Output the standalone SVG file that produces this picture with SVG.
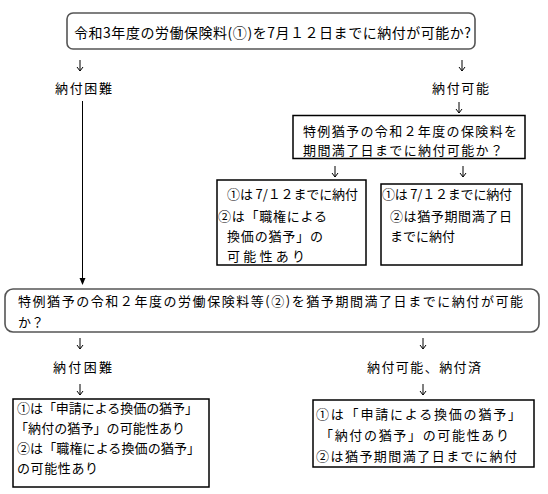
<svg xmlns="http://www.w3.org/2000/svg" width="548" height="494" viewBox="0 0 548 494">
<style>
.t{font-family:"Noto Sans CJK JP","Noto Sans CJK SC",sans-serif;font-size:13px;fill:#000}
.big{font-size:14px}
.rbox{fill:#fff;stroke:#555;stroke-width:1.6}
.box{fill:#fff;stroke:#000;stroke-width:1.5}
.ln{stroke:#000;stroke-width:1;fill:none}
</style>
<defs>
<path id="dn" d="M0,0 V11 M-3,7 L0,11 L3,7" stroke="#000" stroke-width="1" fill="none"/>
</defs>
<rect width="548" height="494" fill="#fff"/>
<g id="connectors">
<use href="#dn" x="80" y="60"/>
<use href="#dn" x="462" y="60"/>
<use href="#dn" x="459" y="102"/>
<line class="ln" x1="82.5" y1="101" x2="82.5" y2="279"/>
<polygon points="79.5,278 85.5,278 82.5,285" fill="#000"/>
<use href="#dn" x="335" y="166"/>
<use href="#dn" x="463" y="166"/>
<use href="#dn" x="80" y="338"/>
<use href="#dn" x="423" y="338"/>
<use href="#dn" x="80" y="384"/>
<use href="#dn" x="423" y="384"/>
</g>
<g id="q1">
<rect class="rbox" x="67" y="13" width="408" height="36" rx="6"/>
<text class="t big" x="74" y="38" textLength="397" lengthAdjust="spacing">令和3年度の労働保険料(①)を7月１２日までに納付が可能か?</text>
</g>
<g id="l1">
<text class="t" x="55" y="93" textLength="57" lengthAdjust="spacing">納付困難</text>
</g>
<g id="r1">
<text class="t" x="432" y="93" textLength="57" lengthAdjust="spacing">納付可能</text>
</g>
<g id="q2">
<rect class="box" x="293" y="115.5" width="232" height="43"/>
<text class="t" x="303" y="136" textLength="214" lengthAdjust="spacing">特例猶予の令和２年度の保険料を</text>
<text class="t" x="303" y="154.5" textLength="200" lengthAdjust="spacing">期間満了日までに納付可能か？</text>
</g>
<g id="q2no">
<rect class="box" x="217" y="180" width="149" height="85"/>
<text class="t" x="227" y="199" textLength="131" lengthAdjust="spacing">①は 7/１２までに納付</text>
<text class="t" x="218" y="221" textLength="109" lengthAdjust="spacing">②は「職権による</text>
<text class="t" x="227" y="241" textLength="96" lengthAdjust="spacing">換価の猶予」の</text>
<text class="t" x="227" y="261" textLength="78" lengthAdjust="spacing">可能性あり</text>
</g>
<g id="q2yes">
<rect class="box" x="381" y="184" width="141" height="81"/>
<text class="t" x="382" y="199" textLength="130" lengthAdjust="spacing">①は 7/１２までに納付</text>
<text class="t" x="390" y="221" textLength="122" lengthAdjust="spacing">②は猶予期間満了日</text>
<text class="t" x="390" y="241" textLength="65" lengthAdjust="spacing">までに納付</text>
</g>
<g id="q3">
<rect class="rbox" x="5" y="289" width="534" height="43" rx="8"/>
<text class="t" x="18" y="306" textLength="505" lengthAdjust="spacing">特例猶予の令和２年度の労働保険料等(②)を猶予期間満了日までに納付が可能</text>
<text class="t" x="18" y="327">か？</text>
</g>
<g id="l3">
<text class="t" x="53" y="372" textLength="59" lengthAdjust="spacing">納付困難</text>
</g>
<g id="r3">
<text class="t" x="367" y="372" textLength="114" lengthAdjust="spacing">納付可能、納付済</text>
</g>
<g id="res-left">
<rect class="box" x="13" y="399" width="196" height="88"/>
<text class="t" x="17" y="413" textLength="181" lengthAdjust="spacing">①は「申請による換価の猶予」</text>
<text class="t" x="15" y="433" textLength="170" lengthAdjust="spacing">「納付の猶予」の可能性あり</text>
<text class="t" x="17" y="453" textLength="183" lengthAdjust="spacing">②は「職権による換価の猶予」</text>
<text class="t" x="17" y="473" textLength="81" lengthAdjust="spacing">の可能性あり</text>
</g>
<g id="res-right">
<rect class="box" x="313" y="400" width="221" height="67"/>
<text class="t" x="316" y="419" textLength="205" lengthAdjust="spacing">①は「申請による換価の猶予」</text>
<text class="t" x="320" y="440" textLength="189" lengthAdjust="spacing">「納付の猶予」の可能性あり</text>
<text class="t" x="316" y="461" textLength="201" lengthAdjust="spacing">②は猶予期間満了日までに納付</text>
</g>
</svg>
